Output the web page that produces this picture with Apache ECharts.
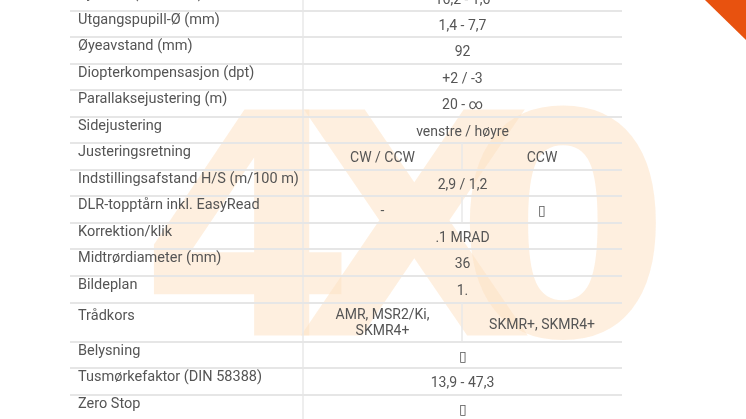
<!DOCTYPE html>
<html><head><meta charset="utf-8">
<script src="https://cdn.jsdelivr.net/npm/echarts@6/dist/echarts.min.js"></script>
<style>html,body{margin:0;padding:0;background:#fff}#c{width:746px;height:419px}</style>
</head><body><div id="c"></div>
<script>
var labels = ["Synsfelt (m/100 m)","Utgangspupill-Ø (mm)","Øyeavstand (mm)","Diopterkompensasjon (dpt)","Parallaksejustering (m)","Sidejustering","Justeringsretning","Indstillingsafstand H/S (m/100 m)","DLR-topptårn inkl. EasyRead","Korrektion/klik","Midtrørdiameter (mm)","Bildeplan","Trådkors","Belysning","Tusmørkefaktor (DIN 58388)","Zero Stop"];
var valuesA = ["16,2 - 1,6","1,4 - 7,7","92","+2 / -3","20 - ∞","venstre / høyre","CW / CCW","2,9 / 1,2","-",".1 MRAD","36","1.","AMR, MSR2/Ki,\nSKMR4+","▯","13,9 - 47,3","▯"];
var valuesB = [null,null,null,null,null,null,"CCW",null,"▯",null,null,null,"SKMR+, SKMR4+",null,null,null];
var rowTops = [-15,11,37,64,90,117,143,170,196,223,249,276,303,342,368,395,421];

var L=70, D=303, S=462, R=622, txt='#555', font='Roboto';
var g=[], wm='rgba(253,226,196,0.55)';
g.push({type:'text',z:0,style:{text:'4',x:140,y:100,fontSize:310,fontWeight:900,fontFamily:'DejaVu Sans',fill:wm}});
g.push({type:'text',z:0,style:{text:'X',x:295,y:100,fontSize:310,fontWeight:900,fontFamily:'DejaVu Sans',fill:wm}});
g.push({type:'text',z:0,style:{text:'0',x:455,y:100,fontSize:310,fontWeight:900,fontFamily:'DejaVu Sans',fill:wm}});
g.push({type:'polygon',z:1,shape:{points:[[705,0],[746,0],[746,40]]},style:{fill:'#e8520f'}});
g.push({type:'line',z:2,shape:{x1:D,y1:0,x2:D,y2:419},style:{stroke:'#e8e8e8',lineWidth:1.5}});
for(var i=0;i<labels.length;i++){
  var t=rowTops[i], b=rowTops[i+1], h=b-t;
  if(i>0) g.push({type:'line',z:2,shape:{x1:L,y1:t,x2:R,y2:t},style:{stroke:'#e6e6e6',lineWidth:2}});
  g.push({type:'text',z:3,style:{text:labels[i],x:L+8,y:t+(h>30?13:9),fontSize:14.5,fontFamily:font,fill:txt,verticalAlign:'middle'}});
  var vy=t+h/2+(h>30?1:2);
  if(valuesB[i]!==null){
    g.push({type:'line',z:2,shape:{x1:S,y1:t,x2:S,y2:b},style:{stroke:'#e8e8e8',lineWidth:1.5}});
    g.push({type:'text',z:3,style:{text:valuesA[i],x:(D+S)/2,y:vy,fontSize:14,lineHeight:16,fontFamily:font,fill:txt,align:'center',verticalAlign:'middle'}});
    g.push({type:'text',z:3,style:{text:valuesB[i],x:(S+R)/2,y:vy+(h>30?2:0),fontSize:14,fontFamily:font,fill:txt,align:'center',verticalAlign:'middle'}});
  } else {
    g.push({type:'text',z:3,style:{text:valuesA[i],x:(D+R)/2,y:vy,fontSize:14,fontFamily:font,fill:txt,align:'center',verticalAlign:'middle'}});
  }
}
g.push({type:'line',z:2,shape:{x1:L,y1:421,x2:R,y2:421},style:{stroke:'#e6e6e6',lineWidth:2}});
var chart=echarts.init(document.getElementById('c'));
chart.setOption({animation:false,graphic:g});
</script></body></html>
